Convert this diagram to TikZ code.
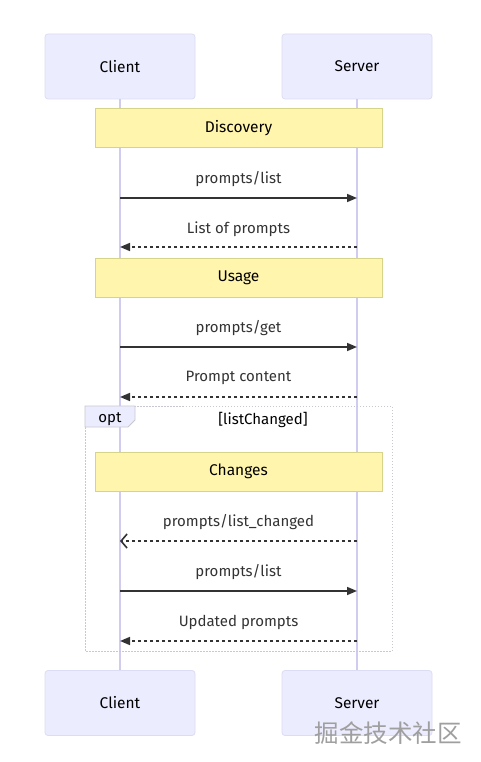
\documentclass[tikz,border=0pt]{standalone}
\usepackage{fontspec}
\setmainfont{Fira Sans}
\newfontfamily\cjk{Noto Sans CJK SC}
\usetikzlibrary{arrows.meta,positioning}
\definecolor{actfill}{HTML}{ECECFF}
\definecolor{actdraw}{HTML}{DCDCF4}
\definecolor{lifeln}{HTML}{D0CCF0}
\definecolor{notefill}{HTML}{FFF5AD}
\definecolor{notedraw}{HTML}{D6D48A}
\definecolor{msg}{HTML}{333333}
\definecolor{loopdraw}{HTML}{C8C8D0}
\tikzset{
  actor/.style={draw=actdraw, fill=actfill, rounded corners=3pt, minimum width=150pt, minimum height=65pt, inner sep=0pt, font=\fontsize{15.5}{17}\selectfont, line width=0.8pt},
  notebox/.style={draw=notedraw, fill=notefill, minimum width=287pt, minimum height=39pt, inner sep=0pt, font=\fontsize{15.5}{17}\selectfont, line width=1pt},
  lbl/.style={font=\fontsize{15}{17}\selectfont, text=msg, inner sep=0pt},
  life/.style={draw=lifeln, line width=1.5pt},
  solidmsg/.style={draw=msg, line width=1.6pt, -{Triangle[length=10pt,width=8pt]}},
  dashmsg/.style={draw=msg, line width=1.6pt, dash pattern=on 3pt off 3pt, -{Triangle[length=10pt,width=8pt]}},
  openmsg/.style={draw=msg, line width=1.6pt, dash pattern=on 3pt off 3pt, -{Straight Barb[length=6pt,width=14pt,line width=1.6pt]}},
}
\begin{document}
\begin{tikzpicture}[x=1pt,y=-1pt]
\useasboundingbox (0,0) rectangle (481,762);
\fill[white] (0,0) rectangle (481,762);
% actors
\node[actor] (ct) at (120,66.5) {Client};
\node[actor] (st) at (357,66.5) {Server};
\node[actor] (cb) at (120,703) {Client};
\node[actor] (sb) at (357,703) {Server};
% lifelines
\draw[life] (ct.south) -- (cb.north);
\draw[life] (st.south) -- (sb.north);
% opt frame
\draw[loopdraw, line width=1pt, dash pattern=on 1.5pt off 1.5pt] (85,406) rectangle (392,651);
\path[fill=actfill, draw=loopdraw, line width=0.8pt] (85,406) -- (135,406) -- (135,420) -- (128,427) -- (85,427) -- cycle;
\node[lbl, text=black] (optl) at (110,419) {opt};
\node[lbl, text=black] (cond) at (263,420) {[listChanged]};
% notes
\node[notebox] (n1) at (238.5,128.5) {Discovery};
\node[notebox] (n2) at (238.5,277.5) {Usage};
\node[notebox] (n3) at (238.5,471.5) {Changes};
% message points
\coordinate (c1) at (120,198); \coordinate (s1) at (357,198);
\coordinate (c2) at (120,247); \coordinate (s2) at (357,247);
\coordinate (c3) at (120,347); \coordinate (s3) at (357,347);
\coordinate (c4) at (120,397); \coordinate (s4) at (357,397);
\coordinate (c5) at (120,541); \coordinate (s5) at (357,541);
\coordinate (c6) at (120,591); \coordinate (s6) at (357,591);
\coordinate (c7) at (120,641); \coordinate (s7) at (357,641);
\draw[solidmsg] (c1) -- (s1);
\draw[dashmsg] (s2) -- (c2);
\draw[solidmsg] (c3) -- (s3);
\draw[dashmsg] (s4) -- (c4);
\draw[openmsg] (s5) -- (c5);
\draw[solidmsg] (c6) -- (s6);
\draw[dashmsg] (s7) -- (c7);
% labels
\node[lbl] (m1) at (238.5,179) {prompts/list};
\node[lbl] (m2) at (238.5,229) {List of prompts};
\node[lbl] (m3) at (238.5,328) {prompts/get};
\node[lbl] (m4) at (238.5,378) {Prompt content};
\node[lbl] (m5) at (238.5,522) {prompts/list\_changed};
\node[lbl] (m6) at (238.5,572) {prompts/list};
\node[lbl] (m7) at (238.5,622) {Updated prompts};
% watermark
\node[font=\cjk\fontsize{24.5}{26}\selectfont, text=gray!75, inner sep=0pt] (wm) at (388,733) {掘金技术社区};
\end{tikzpicture}
\end{document}
